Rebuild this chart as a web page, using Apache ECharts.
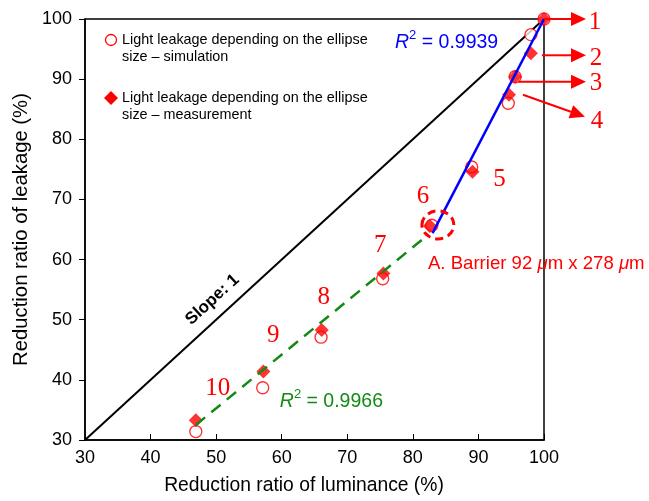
<!DOCTYPE html>
<html><head><meta charset="utf-8">
<script src="https://cdn.jsdelivr.net/npm/echarts@6/dist/echarts.min.js"></script>
<style>html,body{margin:0;padding:0;background:#fff}#c{width:649px;height:501px}</style>
</head><body><div id="c"></div>
<script>
// ---- data ----
const pointNames = ['1','2','3','4','5','6','7','8','9','10'];
const simX  = [100, 98.0, 95.6, 94.55, 88.97, 82.9, 75.4, 66.0, 57.1, 46.9];
const simY  = [100, 97.4, 90.4, 86.0, 75.4, 65.7, 56.8, 47.1, 38.7, 31.4];
const measX = [100, 98.0, 95.6, 94.66, 89.1, 82.6, 75.5, 66.1, 57.2, 46.9];
const measY = [100, 94.3, 90.4, 87.4, 74.6, 65.6, 57.7, 48.3, 41.4, 33.3];
const slopeX = [30, 100];
const slopeY = [30, 100];
const fitHighX = [83.0, 100];
const fitHighY = [64.4, 100];
const fitLowX = [46.9, 82.4];
const fitLowY = [32.5, 64.2];
const xTicks = [30, 40, 50, 60, 70, 80, 90, 100];
const yTicks = [30, 40, 50, 60, 70, 80, 90, 100];
const r2High = '0.9939';
const r2Low = '0.9966';

const zip = (a, b) => a.map((v, i) => [v, b[i]]);
const RED = '#ff0000';
const chart = echarts.init(document.getElementById('c'), null, {renderer: 'canvas'});
const FONT = 'Liberation Sans, Arial, sans-serif';

chart.setOption({
  animation: false,
  grid: {left: 85, right: 105, top: 19, bottom: 61, show: true, borderColor: '#000', borderWidth: 1.5, backgroundColor: 'transparent'},
  xAxis: {
    type: 'value', min: xTicks[0], max: xTicks[xTicks.length - 1], interval: 10,
    name: 'Reduction ratio of luminance (%)', nameLocation: 'middle', nameGap: 36,
    nameTextStyle: {fontFamily: FONT, fontSize: 19.3, color: '#000', padding: [0, 21, 0, 0]},
    axisLine: {show: true, lineStyle: {color: '#000', width: 1.5}},
    axisTick: {show: true, inside: true, length: 6, lineStyle: {color: '#000', width: 1}},
    axisLabel: {fontFamily: FONT, fontSize: 18, color: '#000', margin: 9},
    splitLine: {show: false}
  },
  yAxis: {
    type: 'value', min: yTicks[0], max: yTicks[yTicks.length - 1], interval: 10,
    name: 'Reduction ratio of leakage (%)', nameLocation: 'middle', nameGap: 52,
    nameTextStyle: {fontFamily: FONT, fontSize: 20.3, color: '#000'},
    axisLine: {show: true, lineStyle: {color: '#000', width: 1.5}},
    axisTick: {show: true, inside: false, length: 6, lineStyle: {color: '#000', width: 1}},
    axisLabel: {fontFamily: FONT, fontSize: 18, color: '#000', margin: 13},
    splitLine: {show: false}
  },
  series: [
    {name: 'slope', type: 'line', data: zip(slopeX, slopeY), symbol: 'none', z: 1,
     lineStyle: {color: '#000', width: 2}},
    {name: 'Light leakage depending on the ellipse size – simulation', type: 'scatter',
     data: zip(simX, simY), symbol: 'circle', symbolSize: 12, z: 2,
     itemStyle: {color: '#fff', borderColor: RED, borderWidth: 1.4}},
    {name: 'Light leakage depending on the ellipse size – measurement', type: 'scatter',
     data: zip(measX, measY), symbol: 'diamond', symbolSize: 14, z: 3,
     itemStyle: {color: RED}},
    {name: 'fitLow', type: 'line', data: zip(fitLowX, fitLowY), symbol: 'none', z: 4,
     lineStyle: {color: '#138a13', width: 2.5, type: [12, 8]}},
    {name: 'fitHigh', type: 'line', data: zip(fitHighX, fitHighY), symbol: 'none', z: 4,
     lineStyle: {color: '#0000ff', width: 2.5}}
  ]
});

// ---- annotations ----
const px = (x, y) => chart.convertToPixel({gridIndex: 0}, [x, y]);
const corner = px(100, 100);
const tipX = corner[0] + 42;
const g = [];

function arrow(x1, y1, x2, y2) {
  const ang = Math.atan2(y2 - y1, x2 - x1);
  const L = 15, W = 7;
  const bx = x2 - L * Math.cos(ang), by = y2 - L * Math.sin(ang);
  g.push({type: 'line', shape: {x1, y1, x2: bx, y2: by}, style: {stroke: RED, lineWidth: 2}, z: 10});
  g.push({type: 'polygon', shape: {points: [[x2, y2],
    [bx + W * Math.sin(ang), by - W * Math.cos(ang)],
    [bx - W * Math.sin(ang), by + W * Math.cos(ang)]]}, style: {fill: RED}, z: 10});
}
function num(t, x, y) {
  g.push({type: 'text', x, y, z: 11, style: {text: t, fill: RED, font: '25px "Liberation Serif", "Times New Roman", serif', align: 'center', verticalAlign: 'middle'}});
}

// arrows 1-4
const p1 = px(measX[0], measY[0]);
arrow(p1[0], p1[1], tipX, p1[1]);
num(pointNames[0], tipX + 9, p1[1] + 3);
const p2 = px(measX[1], measY[1]);
arrow(p2[0] + 11, p2[1] + 2, tipX, p2[1] + 2);
num(pointNames[1], tipX + 10, p2[1] + 5);
const p3 = px(measX[2], measY[2]);
arrow(p3[0] + 3, p3[1] + 5, tipX, p3[1] + 5);
num(pointNames[2], tipX + 10, p3[1] + 7);
const p4 = px(measX[3], measY[3]);
arrow(p4[0] + 14, p4[1], tipX - 1, p4[1] + 22);
num(pointNames[3], tipX + 11, p4[1] + 27);

// labels 5-10
const offs = [[27, 8], [-7, -29], [-3, -28], [2, -33], [10, -36], [22, -32]];
for (let i = 4; i < 10; i++) {
  const p = px(measX[i], measY[i]);
  num(pointNames[i], p[0] + offs[i - 4][0], p[1] + offs[i - 4][1]);
}

// ellipse round point 6
const p6 = px(measX[5], measY[5]);
g.push({type: 'ellipse', shape: {cx: p6[0] + 8, cy: p6[1] - 1, rx: 16, ry: 14},
  style: {fill: 'none', stroke: RED, lineWidth: 3, lineDash: [8, 5]}, z: 12});
g.push({type: 'text', x: p6[0] - 2, y: p6[1] + 38, z: 11, style: {
  text: '{n|A. Barrier 92 }{i|μ}{n|m x 278 }{i|μ}{n|m}', verticalAlign: 'middle',
  rich: {n: {fill: RED, fontFamily: FONT, fontSize: 18.6}, i: {fill: RED, fontFamily: FONT, fontSize: 18.6, fontStyle: 'italic'}}}});

// slope label
const ps = px(50.5, 50.5);
g.push({type: 'text', x: ps[0] - 7, y: ps[1] - 17, rotation: Math.atan2(421, 459), z: 11,
  style: {text: 'Slope: 1', fill: '#000', font: 'bold 17px ' + FONT, align: 'center', verticalAlign: 'middle'}});

// R2 labels
function r2(val, color, x, y) {
  g.push({type: 'text', x, y, z: 11, style: {
    text: '{r|R}{s|2}{n| = ' + val + '}', verticalAlign: 'middle',
    rich: {
      r: {fill: color, fontFamily: FONT, fontSize: 19.5, fontStyle: 'italic', lineHeight: 24, verticalAlign: 'bottom'},
      s: {fill: color, fontFamily: FONT, fontSize: 13, lineHeight: 24, verticalAlign: 'top'},
      n: {fill: color, fontFamily: FONT, fontSize: 19.5, lineHeight: 24, verticalAlign: 'bottom'}
    }}});
}
const pr1 = px(fitHighX[1], fitHighY[1]);
r2(r2High, '#0000ff', pr1[0] - 149, pr1[1] + 22);
const pr2 = px(fitLowX[0], fitLowY[0]);
r2(r2Low, '#138a13', pr2[0] + 84, pr2[1] - 25);

// legend (inside the plot, top left)
const lx = 111;
g.push({type: 'circle', shape: {cx: lx, cy: 40, r: 5.5}, style: {fill: '#fff', stroke: RED, lineWidth: 1.3}, z: 11});
g.push({type: 'text', x: lx + 11, y: 32, z: 11, style: {text: 'Light leakage depending on the ellipse\nsize – simulation', fill: '#000', font: '14.4px ' + FONT, verticalAlign: 'top', lineHeight: 17}});
g.push({type: 'polygon', shape: {points: [[lx, 91], [lx + 7, 98], [lx, 105], [lx - 7, 98]]}, style: {fill: RED}, z: 11});
g.push({type: 'text', x: lx + 11, y: 90, z: 11, style: {text: 'Light leakage depending on the ellipse\nsize – measurement', fill: '#000', font: '14.4px ' + FONT, verticalAlign: 'top', lineHeight: 17}});

chart.setOption({graphic: g});
</script>
</body></html>
